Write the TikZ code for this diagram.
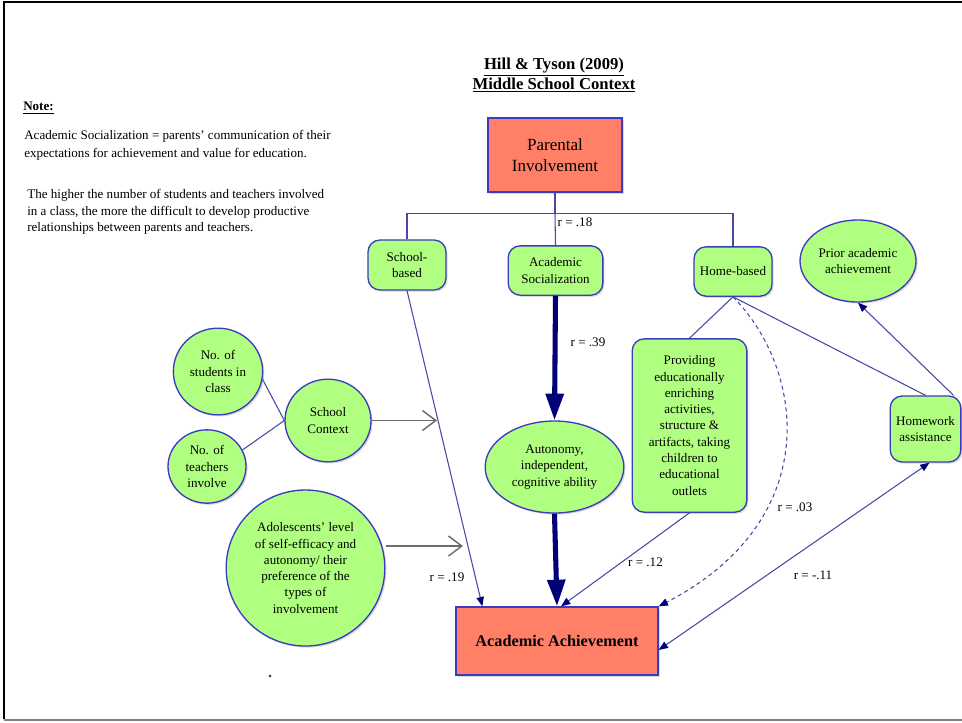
\documentclass[tikz,border=0pt]{standalone}
\usepackage{fontspec}
\setmainfont{Liberation Serif}
\usetikzlibrary{arrows.meta,shapes.geometric,shadows,calc}
\definecolor{salmon}{RGB}{255,128,102}
\definecolor{leaf}{RGB}{176,255,128}
\definecolor{rim}{RGB}{60,60,190}
\definecolor{linkblue}{RGB}{72,72,165}
\definecolor{deepnavy}{RGB}{0,0,120}

\begin{document}
\begin{tikzpicture}[x=0.75pt,y=-0.75pt,
  softshadow/.style={drop shadow={opacity=0.3,shadow xshift=1.2pt,shadow yshift=-1.2pt}},
  redbox/.style={draw=rim,line width=1pt,fill=salmon,softshadow,align=center,inner sep=0pt},
  greenbox/.style={draw=rim,line width=1pt,fill=leaf,rounded corners=9pt,softshadow,
    align=center,inner sep=0pt,font=\fontsize{9.8}{12.2}\selectfont},
  greenoval/.style={draw=rim,line width=1pt,fill=leaf,ellipse,softshadow,
    align=center,inner sep=0pt,font=\fontsize{9.8}{12.2}\selectfont},
  thinline/.style={draw=linkblue,line width=0.8pt},
  thinarrow/.style={thinline,-{Triangle[length=7pt,width=5.5pt,color=deepnavy]}},
  heavyarrow/.style={draw=deepnavy,line width=3.8pt,-{Triangle[length=20pt,width=13pt]}},
  greyarrow/.style={draw=gray!85!black,line width=1.1pt,-{Straight Barb[length=10pt,width=15pt]}},
  rlabel/.style={font=\fontsize{9.8}{11}\selectfont,inner sep=0pt},
]
  \useasboundingbox (0,0) rectangle (962,722);
  % frame
  \draw[line width=2pt] (962,2) -- (4,2) -- (4,719);
  \draw[gray,line width=1.3pt] (4,720) -- (962,720);

  % title and note
  \node[font=\bfseries\fontsize{12.5}{15}\selectfont,align=center] (title) at (554,75)
    {\underline{Hill \& Tyson (2009)}\\\underline{Middle School Context}};
  \node[anchor=west,font=\bfseries\fontsize{9.8}{11}\selectfont,inner sep=0pt] (notehead) at (23,108)
    {\underline{Note:}};
  \node[anchor=north west,align=left,font=\fontsize{9.8}{13.5}\selectfont,inner sep=0pt] (note1) at (24,130)
    {Academic Socialization = parents' communication of their\\expectations for achievement and value for education.};
  \node[anchor=north west,align=left,font=\fontsize{9.8}{12.4}\selectfont,inner sep=0pt] (note2) at (27,189)
    {The higher the number of students and teachers involved\\in a class, the more the difficult to develop productive\\relationships between parents and teachers.};

  % main boxes
  \node[redbox,minimum width=100.5pt,minimum height=55.5pt,font=\fontsize{12.8}{15.5}\selectfont]
    (parent) at (555,155) {Parental\\Involvement};
  \node[greenbox,minimum width=58.5pt,minimum height=37.5pt] (school) at (407,265) {School-\\based};
  \node[greenbox,minimum width=71pt,minimum height=37pt] (social) at (555.5,270.5) {Academic\\Socialization};
  \node[greenbox,minimum width=58.5pt,minimum height=37pt] (home) at (733,271.5) {Home-based};
  \node[greenoval,minimum width=87pt,minimum height=61.5pt] (prior) at (858,261) {Prior academic\\achievement};
  \node[greenbox,minimum width=53pt,minimum height=49.5pt] (homework) at (925.5,429) {Homework\\assistance};
  \node[greenoval,minimum width=104pt,minimum height=69pt] (autonomy) at (554.5,467)
    {Autonomy,\\independent,\\cognitive ability};
  \node[greenbox,minimum width=86pt,minimum height=130pt] (enrich) at (689.5,425.5)
    {Providing\\educationally\\enriching\\activities,\\structure \&\\artifacts, taking\\children to\\educational\\outlets};
  \node[redbox,minimum width=151.5pt,minimum height=51pt,font=\bfseries\fontsize{12.2}{14}\selectfont]
    (achieve) at (557,641) {Academic Achievement};

  % circles on the left
  \node[greenoval,minimum width=67pt,minimum height=65pt] (students) at (218,371.5) {No. of\\students in\\class};
  \node[greenoval,minimum width=58.5pt,minimum height=55pt] (teachers) at (207,466.5) {No. of\\teachers\\involve};
  \node[greenoval,minimum width=64.5pt,minimum height=62pt] (context) at (328,420.5) {School\\Context};
  \node[greenoval,minimum width=119pt,minimum height=117pt] (adolescent) at (305.5,568)
    {Adolescents' level\\of self-efficacy and\\autonomy/ their\\preference of the\\types of\\involvement};

  % correlations
  \node[rlabel] (r18) at (575,222) {r = .18};
  \node[rlabel] (r39) at (588,342) {r = .39};
  \node[rlabel] (r19) at (447,577) {r = .19};
  \node[rlabel] (r12) at (645.5,562) {r = .12};
  \node[rlabel] (r03) at (795,507) {r = .03};
  \node[rlabel] (r11) at (813,575) {r = -.11};

  % connectors
  \coordinate (bus) at ($(parent.south)+(0,21)$);
  \draw[thinline] (parent.south) -- (bus);
  \draw[thinline] (school.north) |- (bus) -| (home.north);
  \draw[thinline] (bus) -- (social.north);
  \draw[thinarrow] (school.south) -- ($(achieve.north west)+(27,0)$);
  \draw[heavyarrow] (social.south) -- (autonomy.north);
  \draw[heavyarrow] (autonomy.south) -- (achieve.north);
  \draw[thinline] (home.south) -- (enrich.north);
  \draw[thinarrow] (enrich.south) -- ($(achieve.north)+(4,0)$);
  \draw[thinarrow,dash pattern=on 3pt off 2.5pt] (home.south)
    .. controls (805,370) and (825,520) .. (achieve.north east);
  \draw[thinline] (home.south) -- (homework.north);
  \draw[thinarrow] ($(homework.north east)+(-8,0)$) -- (prior.south);
  \draw[thinarrow,{Triangle[length=7pt,width=5.5pt,color=deepnavy]}-{Triangle[length=7pt,width=5.5pt,color=deepnavy]}]
    ($(homework.south)+(4,0)$) -- ($(achieve.east)+(0,9)$);
  \draw[thinline] (students.-10) -- (context.west);
  \draw[thinline] (teachers.25) -- (context.west);
  \coordinate (ctxhit) at (437,420.5);
  \coordinate (adohit) at (463,546);
  \draw[greyarrow] (context.east) -- (ctxhit);
  \draw[greyarrow] (adolescent.east |- adohit) -- (adohit);
  \fill[gray!60!black] (270,676) circle (1.2pt);
\end{tikzpicture}
\end{document}
